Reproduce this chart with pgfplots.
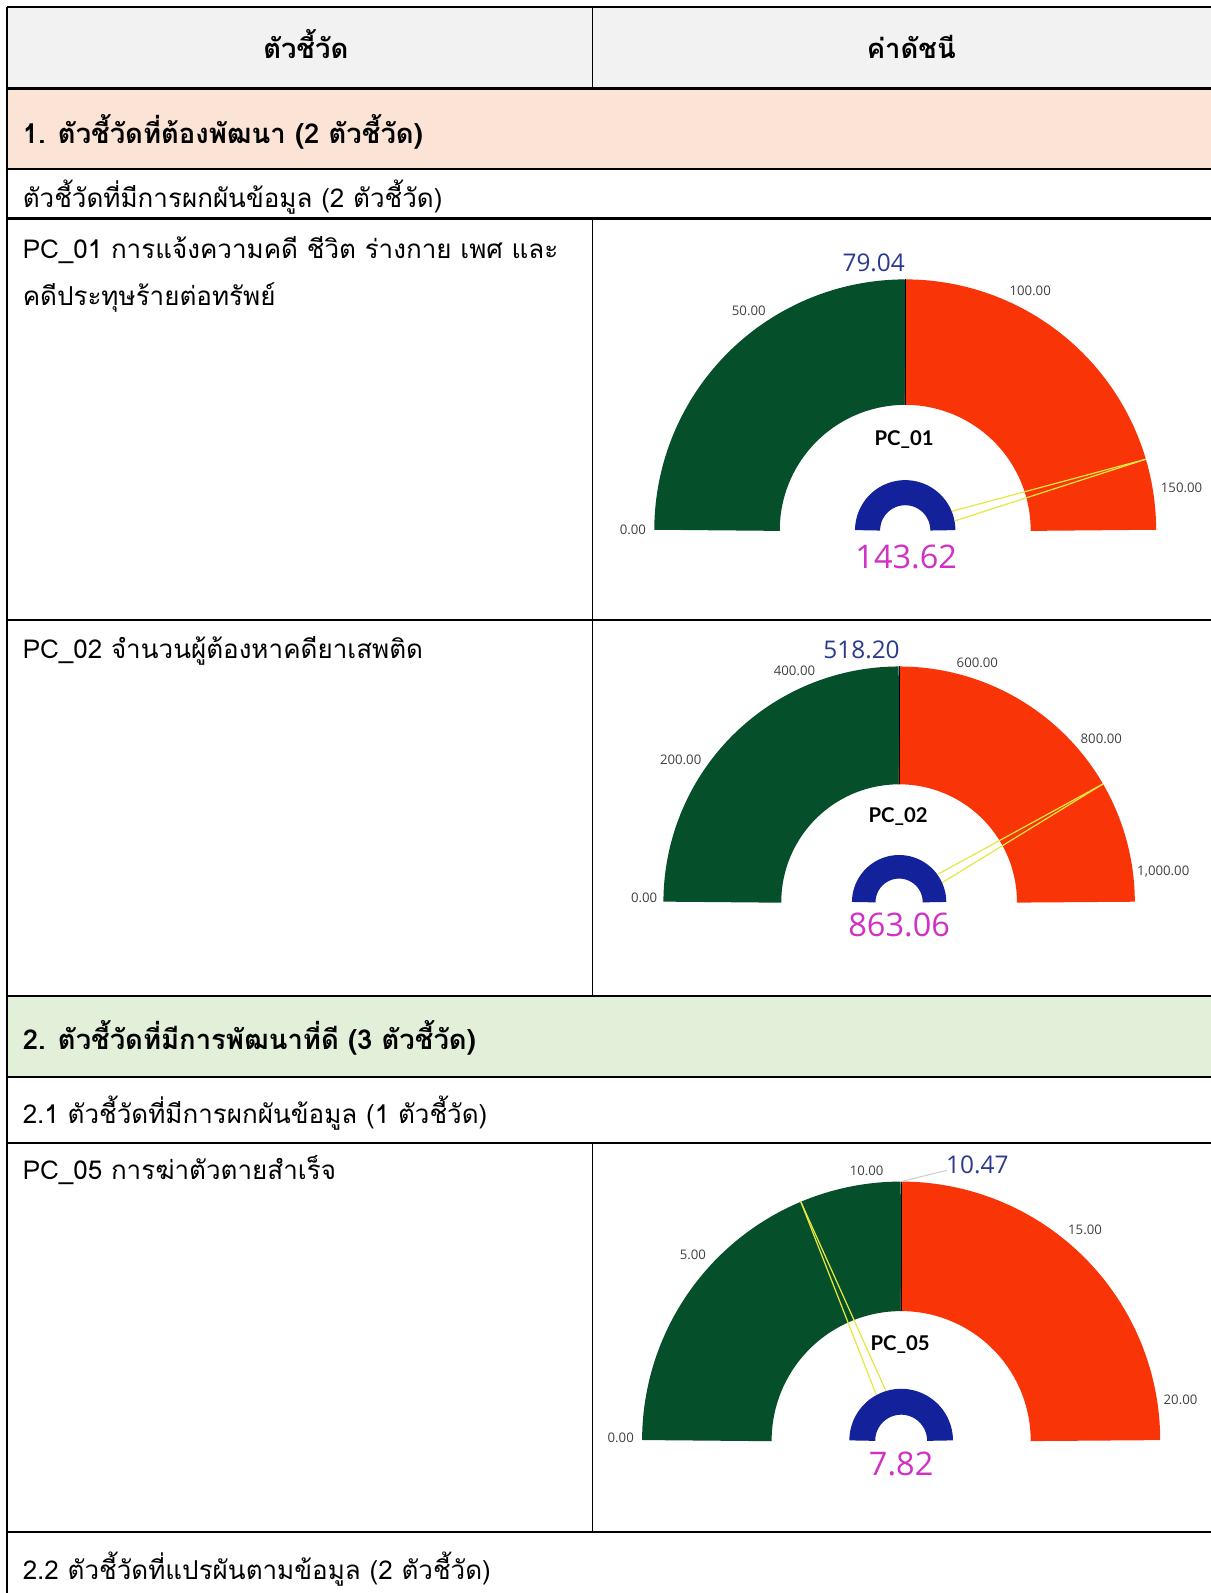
\documentclass[border=0pt]{standalone}
\usepackage{pgfplots}
\pgfplotsset{compat=1.18}
\usepackage{fontspec}
\setmainfont{Open Sans}
\newfontfamily\thai[Script=Thai]{Loma}
\newfontfamily\pcf{Lato}
\definecolor{gGreen}{HTML}{05502A}
\definecolor{gRed}{HTML}{F93407}
\definecolor{gBlue}{HTML}{13219B}
\definecolor{gMag}{HTML}{D030C4}
\definecolor{gNavy}{HTML}{2B3A8C}
\definecolor{gYel}{HTML}{E8E640}
\definecolor{hdr}{HTML}{F2F2F2}
\definecolor{secA}{HTML}{FBE4D5}
\definecolor{secB}{HTML}{E2EFD9}
\definecolor{tickc}{HTML}{404040}

% #1 cx, #2 cy, #3 R (picture units), #4 target, #5 max, #6 value,
% #7 axis unit (pt), #8 band line width (pt), #9 ring line width (pt)
\newcommand{\gauge}[9]{%
  \pgfmathsetmacro\gth{180-180*(#6/#5)}%
  \pgfmathsetmacro\gtt{180-180*(#4/#5)}%
  \coordinate (gpos) at (#1-1.2*#3,#2+0.2*#3);%
  \begin{axis}[
    at={(gpos)}, anchor=south west,
    x=#7pt, y=#7pt, xmin=-1.2, xmax=1.2, ymin=-0.2, ymax=1.2,
    hide axis, clip=false]
    \addplot[gGreen, line width=#8pt, domain=0:#4, samples=120] ({0.75*cos(180-180*(x/#5))}, {0.75*sin(180-180*(x/#5))});
    \addplot[gRed, line width=#8pt, domain=#4:#5, samples=120] ({0.75*cos(180-180*(x/#5))}, {0.75*sin(180-180*(x/#5))});
    \addplot[black, line width=0.5pt, domain=0.5:1, samples=2] ({x*cos(\gtt)}, {x*sin(\gtt)});
    \addplot[gBlue, line width=#9pt, domain=0:#5, samples=90] ({0.15*cos(180-180*(x/#5))}, {0.15*sin(180-180*(x/#5))});
    \addplot[gYel, line width=0.6pt, domain=0:1, samples=2] ({(1-x)*(0.2*cos(\gth)-0.02*sin(\gth))+x*cos(\gth)}, {(1-x)*(0.2*sin(\gth)+0.02*cos(\gth))+x*sin(\gth)});
    \addplot[gYel, line width=0.6pt, domain=0:1, samples=2] ({(1-x)*(0.2*cos(\gth)+0.02*sin(\gth))+x*cos(\gth)}, {(1-x)*(0.2*sin(\gth)-0.02*cos(\gth))+x*sin(\gth)});
  \end{axis}}

\begin{document}
\begin{tikzpicture}[x=0.5pt,y=-0.5pt]
\path[use as bounding box] (0,0) rectangle (1192,1568);
\begin{scope}
\clip (0,0) rectangle (1192,1568);
% backgrounds
\fill[hdr] (7,7) rectangle (1192,87);
\fill[secA] (7,87) rectangle (1192,166);
\fill[secB] (7,980) rectangle (1192,1060);
% gauges
\gauge{891}{522}{247}{79.04}{158.08}{143.62}{123.5}{61.75}{12.35}
\gauge{885}{888}{232}{518.20}{1036.4}{863.06}{116}{58}{11.6}
\gauge{887}{1418}{255}{10.47}{20.94}{7.82}{127.5}{63.75}{12.75}
% table rules
\begin{scope}[line width=1.1pt]
\draw (7,7) -- (1192,7);
\draw (7,7) -- (7,1568);
\foreach \yy in {87,166,215,610,980,1060,1125,1508} {\draw (7,\yy) -- (1192,\yy);}
\end{scope}
\begin{scope}[line width=0.7pt]
\draw (583,7) -- (583,87);
\draw (583,215) -- (583,980);
\draw (583,1125) -- (583,1508);
\end{scope}
\end{scope}
% leader line for 10.47
\draw[gray!40, line width=0.5pt] (887,1163) -- (932,1152);
% header and row texts
\tikzset{thb/.style={font=\thai\bfseries\fontsize{13.5}{15}\selectfont}}
\begin{scope}[every node/.style={inner sep=0pt, font=\thai\fontsize{12.8}{15}\selectfont}]
\node[anchor=base, thb] at (301,58) {ตัวชี้วัด};
\node[anchor=base, thb] at (897,58) {ค่าดัชนี};
\node[anchor=base west, thb] at (22,141) {1. ตัวชี้วัดที่ต้องพัฒนา (2 ตัวชี้วัด)};
\node[anchor=base west] at (22,204) {ตัวชี้วัดที่มีการผกผันข้อมูล (2 ตัวชี้วัด)};
\node[anchor=base west] at (22,254) {PC\_01 การแจ้งความคดี ชีวิต ร่างกาย เพศ และ};
\node[anchor=base west] at (22,301) {คดีประทุษร้ายต่อทรัพย์};
\node[anchor=base west] at (22,648) {PC\_02 จำนวนผู้ต้องหาคดียาเสพติด};
\node[anchor=base west, thb] at (22,1033) {2. ตัวชี้วัดที่มีการพัฒนาที่ดี (3 ตัวชี้วัด)};
\node[anchor=base west] at (22,1106) {2.1 ตัวชี้วัดที่มีการผกผันข้อมูล (1 ตัวชี้วัด)};
\node[anchor=base west] at (22,1161) {PC\_05 การฆ่าตัวตายสำเร็จ};
\node[anchor=base west] at (22,1555) {2.2 ตัวชี้วัดที่แปรผันตามข้อมูล (2 ตัวชี้วัด)};
\end{scope}
% gauge texts
\begin{scope}[every node/.style={inner sep=0pt}]
\tikzset{tk/.style={text=tickc, font=\fontsize{6.5}{8}\selectfont},
 tg/.style={text=gNavy, font=\fontsize{12}{14}\selectfont},
 vl/.style={text=gMag, font=\fontsize{16}{18}\selectfont},
 pc/.style={text=black, font=\pcf\bfseries\fontsize{10}{12}\selectfont}}
% PC_01
\node[tg] at (860,259) {79.04};
\node[vl] at (892,548) {143.62};
\node[pc] at (890,433) {PC\_01};
\node[tk] at (623,521) {0.00};
\node[tk] at (737,306) {50.00};
\node[tk] at (1014,286) {100.00};
\node[tk] at (1163,480) {150.00};
% PC_02
\node[tg] at (848,640) {518.20};
\node[vl] at (885,910) {863.06};
\node[pc] at (884,804) {PC\_02};
\node[tk] at (634,884) {0.00};
\node[tk] at (670,748) {200.00};
\node[tk] at (782,660) {400.00};
\node[tk] at (962,652) {600.00};
\node[tk] at (1084,727) {800.00};
\node[tk] at (1145,858) {1,000.00};
% PC_05
\node[tg] at (962,1147) {10.47};
\node[vl] at (887,1441) {7.82};
\node[pc] at (886,1323) {PC\_05};
\node[tk] at (611,1415) {0.00};
\node[tk] at (682,1235) {5.00};
\node[tk] at (853,1152) {10.00};
\node[tk] at (1068,1210) {15.00};
\node[tk] at (1162,1378) {20.00};
\end{scope}
\end{tikzpicture}
\end{document}
